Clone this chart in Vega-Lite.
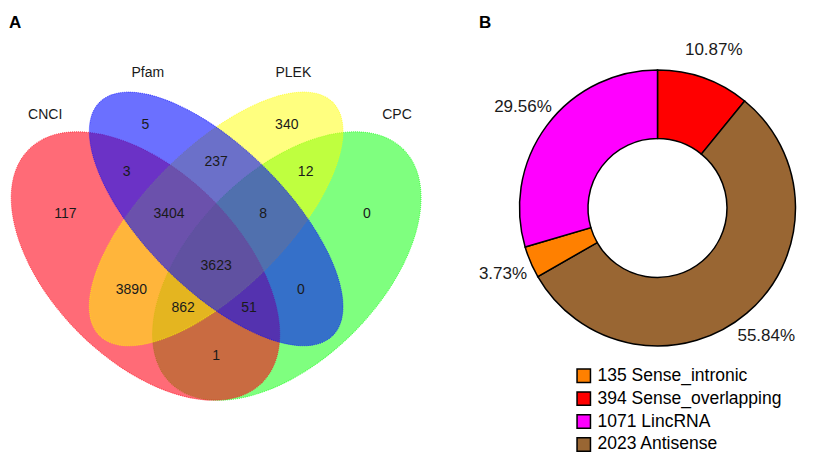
{
  "$schema": "https://vega.github.io/schema/vega-lite/v6.json",
  "padding": {"left": 0, "top": 14, "right": 0, "bottom": 0},
  "spacing": 7,
  "config": {
    "view": {"stroke": null},
    "font": "Liberation Sans",
    "title": {"fontSize": 17, "fontWeight": "bold", "anchor": "start", "font": "Liberation Sans", "color": "#000000", "dy": 2}
  },
  "datasets": {
    "sets": [
      {"set": "CNCI", "x": 0.35, "y": 0.47},
      {"set": "Pfam", "x": 0.5, "y": 0.57},
      {"set": "PLEK", "x": 0.5, "y": 0.57},
      {"set": "CPC", "x": 0.65, "y": 0.47}
    ],
    "regions": [
      {"count": "5", "x": 0.35, "y": 0.77},
      {"count": "340", "x": 0.65, "y": 0.77},
      {"count": "3", "x": 0.31, "y": 0.67},
      {"count": "237", "x": 0.5, "y": 0.69},
      {"count": "12", "x": 0.69, "y": 0.67},
      {"count": "117", "x": 0.18, "y": 0.58},
      {"count": "3404", "x": 0.4, "y": 0.58},
      {"count": "8", "x": 0.6, "y": 0.58},
      {"count": "0", "x": 0.82, "y": 0.58},
      {"count": "3623", "x": 0.5, "y": 0.47},
      {"count": "3890", "x": 0.32, "y": 0.42},
      {"count": "0", "x": 0.68, "y": 0.42},
      {"count": "862", "x": 0.43, "y": 0.38},
      {"count": "51", "x": 0.57, "y": 0.38},
      {"count": "1", "x": 0.5, "y": 0.28}
    ],
    "setnames": [
      {"name": "CNCI", "x": 0.137, "y": 0.79},
      {"name": "Pfam", "x": 0.355, "y": 0.88},
      {"name": "PLEK", "x": 0.664, "y": 0.88},
      {"name": "CPC", "x": 0.884, "y": 0.79}
    ],
    "types": [
      {"category": "394 Sense_overlapping", "count": 394, "pct": "10.87%", "slice_order": 1},
      {"category": "2023 Antisense", "count": 2023, "pct": "55.84%", "slice_order": 2},
      {"category": "135 Sense_intronic", "count": 135, "pct": "3.73%", "slice_order": 3},
      {"category": "1071 LincRNA", "count": 1071, "pct": "29.56%", "slice_order": 4}
    ]
  },
  "hconcat": [
    {
      "title": {"text": "A", "dx": 9},
      "width": 471,
      "height": 427,
      "encoding": {
        "x": {"field": "x", "type": "quantitative", "scale": {"domain": [0.0411, 1.0411], "nice": false, "zero": false}, "axis": null},
        "y": {"field": "y", "type": "quantitative", "scale": {"domain": [0.0561, 0.9626], "nice": false, "zero": false}, "axis": null}
      },
      "layer": [
        {
          "data": {"name": "sets"},
          "transform": [{"filter": "datum.set === 'CPC'"}],
          "mark": {"type": "point", "filled": true, "opacity": 1, "fill": "#00ff00", "fillOpacity": 0.5, "stroke": "#00ff00", "strokeOpacity": 0.6, "strokeWidth": 1, "strokeDash": [1, 1], "angle": -45, "size": 108702,
            "shape": "M1,0 C1,0.3156 0.5523,0.5714 0,0.5714 C-0.5523,0.5714 -1,0.3156 -1,0 C-1,-0.3156 -0.5523,-0.5714 0,-0.5714 C0.5523,-0.5714 1,-0.3156 1,0 Z"}
        },
        {
          "data": {"name": "sets"},
          "transform": [{"filter": "datum.set === 'CNCI'"}],
          "mark": {"type": "point", "filled": true, "opacity": 1, "fill": "#ff0014", "fillOpacity": 0.58, "stroke": "#ff0014", "strokeOpacity": 0.6, "strokeWidth": 1, "strokeDash": [1, 1], "angle": 45, "size": 108702,
            "shape": "M1,0 C1,0.3156 0.5523,0.5714 0,0.5714 C-0.5523,0.5714 -1,0.3156 -1,0 C-1,-0.3156 -0.5523,-0.5714 0,-0.5714 C0.5523,-0.5714 1,-0.3156 1,0 Z"}
        },
        {
          "data": {"name": "sets"},
          "transform": [{"filter": "datum.set === 'PLEK'"}],
          "mark": {"type": "point", "filled": true, "opacity": 1, "fill": "#ffff00", "fillOpacity": 0.5, "stroke": "#ffff00", "strokeOpacity": 0.6, "strokeWidth": 1, "strokeDash": [1, 1], "angle": -45, "size": 108702,
            "shape": "M1,0 C1,0.2367 0.5523,0.4286 0,0.4286 C-0.5523,0.4286 -1,0.2367 -1,0 C-1,-0.2367 -0.5523,-0.4286 0,-0.4286 C0.5523,-0.4286 1,-0.2367 1,0 Z"}
        },
        {
          "data": {"name": "sets"},
          "transform": [{"filter": "datum.set === 'Pfam'"}],
          "mark": {"type": "point", "filled": true, "opacity": 1, "fill": "#0008ff", "fillOpacity": 0.58, "stroke": "#0008ff", "strokeOpacity": 0.6, "strokeWidth": 1, "strokeDash": [1, 1], "angle": 45, "size": 108702,
            "shape": "M1,0 C1,0.2367 0.5523,0.4286 0,0.4286 C-0.5523,0.4286 -1,0.2367 -1,0 C-1,-0.2367 -0.5523,-0.4286 0,-0.4286 C0.5523,-0.4286 1,-0.2367 1,0 Z"}
        },
        {
          "data": {"name": "regions"},
          "mark": {"type": "text", "fontSize": 14, "font": "Liberation Sans", "color": "#1a1a1a"},
          "encoding": {"text": {"field": "count", "type": "nominal"}}
        },
        {
          "data": {"name": "setnames"},
          "mark": {"type": "text", "fontSize": 14, "font": "Liberation Sans", "color": "#1a1a1a"},
          "encoding": {"text": {"field": "name", "type": "nominal"}}
        }
      ]
    },
    {
      "title": {"text": "B"},
      "width": 357,
      "height": 348,
      "data": {"name": "types"},
      "encoding": {
        "theta": {"field": "count", "type": "quantitative", "stack": true},
        "order": {"field": "slice_order", "type": "quantitative"}
      },
      "layer": [
        {
          "mark": {"type": "arc", "radius": 138, "radius2": 69.5, "stroke": "#000000", "strokeWidth": 1.5},
          "encoding": {
            "color": {
              "field": "category", "type": "nominal",
              "scale": {
                "domain": ["135 Sense_intronic", "394 Sense_overlapping", "1071 LincRNA", "2023 Antisense"],
                "range": ["#ff8000", "#ff0000", "#ff00ff", "#996633"]
              },
              "legend": {
                "orient": "none", "legendX": 575, "legendY": 333, "title": null,
                "symbolType": "square", "symbolSize": 180, "symbolStrokeColor": "#000000", "symbolStrokeWidth": 1.5, "symbolOpacity": 1,
                "labelFontSize": 17.5, "labelFont": "Liberation Sans", "labelColor": "#000000", "labelLimit": 400, "rowPadding": 2.9, "labelOffset": 5
              }
            }
          }
        },
        {
          "mark": {"type": "text", "radius": 168, "fontSize": 17, "font": "Liberation Sans", "color": "#1a1a1a"},
          "encoding": {
            "text": {"field": "pct", "type": "nominal"},
            "detail": {"field": "category", "type": "nominal"}
          }
        }
      ]
    }
  ]
}
